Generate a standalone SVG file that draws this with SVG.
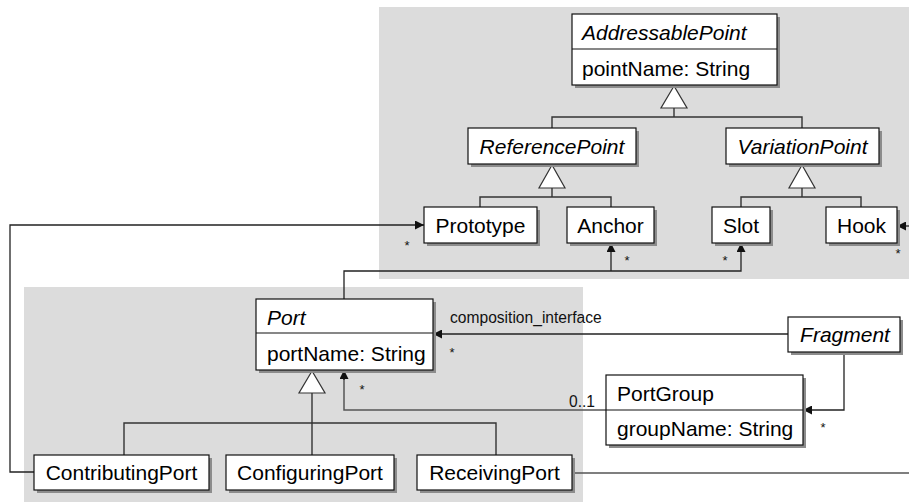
<svg xmlns="http://www.w3.org/2000/svg" width="909" height="504" viewBox="0 0 909 504">
  <style>
    .panel { fill: #dcdcdc; }
    .shadow { fill: #8c8c8c; }
    .box { fill: #ffffff; stroke: #111; stroke-width: 1.2; }
    .div { stroke: #111; stroke-width: 1.2; }
    .name { font-family: "Liberation Sans", Arial, sans-serif; font-size: 21px; fill: #000; }
    .abs { font-style: italic; }
    .c { text-anchor: middle; }
    .lbl { font-family: "Liberation Sans", Arial, sans-serif; font-size: 15.6px; fill: #111; }
    .star { font-family: "Liberation Sans", Arial, sans-serif; font-size: 13px; fill: #111; text-anchor: middle; }
    .gen { fill: none; stroke: #333; stroke-width: 1.4; }
    .tri { fill: #fff; stroke: #333; stroke-width: 1.2; }
    .assoc { fill: none; stroke: #222; stroke-width: 1.3; }
    .assoc-g { fill: none; stroke: #555; stroke-width: 1.5; }
  </style>
  <defs>
    <marker id="arrow" viewBox="0 0 10 10" refX="10" refY="5" markerWidth="9" markerHeight="9" markerUnits="userSpaceOnUse" orient="auto">
      <path d="M0,0 L10,5 L0,10 Z" fill="#111"/>
    </marker>
  </defs>

  <!-- package backgrounds -->
  <rect class="panel" x="379" y="7" width="530" height="272"/>
  <rect class="panel" x="24" y="287" width="559" height="215"/>

  <!-- connectors -->
  <g id="connectors">
    <!-- generalization: AddressablePoint -->
    <polyline class="gen" points="552,128 552,117 802,117 802,128"/>
    <line class="gen" x1="674" y1="108" x2="674" y2="117"/>
    <polygon class="tri" points="674,86 661,108 687,108"/>
    <!-- generalization: ReferencePoint -->
    <polyline class="gen" points="480,207 480,197 611,197 611,207"/>
    <line class="gen" x1="552" y1="188" x2="552" y2="197"/>
    <polygon class="tri" points="552,165 539,188 565,188"/>
    <!-- generalization: VariationPoint -->
    <polyline class="gen" points="741,207 741,197 861,197 861,207"/>
    <line class="gen" x1="802" y1="188" x2="802" y2="197"/>
    <polygon class="tri" points="802,165 789,188 815,188"/>
    <!-- generalization: Port -->
    <polyline class="gen" points="124,455 124,423 496,423 496,455"/>
    <line class="gen" x1="312" y1="393" x2="312" y2="455"/>
    <polygon class="tri" points="312,371 299,393 325,393"/>

    <!-- ContributingPort to Prototype -->
    <polyline class="assoc" points="34,472 10,472 10,225 424,225" marker-end="url(#arrow)"/>
    <text class="star" x="407" y="250">*</text>
    <!-- ReceivingPort to Hook -->
    <line class="assoc-g" x1="572" y1="473" x2="909" y2="473"/>
    <line class="assoc" x1="909" y1="226" x2="897" y2="226" marker-end="url(#arrow)"/>
    <text class="star" x="898" y="258">*</text>
    <!-- Port to Anchor / Slot -->
    <polyline class="assoc" points="344,299 344,271 741,271 741,243" marker-end="url(#arrow)"/>
    <line class="assoc" x1="611" y1="271" x2="611" y2="243" marker-end="url(#arrow)"/>
    <text class="star" x="627" y="265">*</text>
    <text class="star" x="725" y="265">*</text>
    <!-- Fragment to Port -->
    <line class="assoc" x1="788" y1="334" x2="433" y2="334" marker-end="url(#arrow)"/>
    <text class="lbl" x="450" y="323">composition_interface</text>
    <text class="star" x="452" y="357">*</text>
    <!-- Fragment to PortGroup -->
    <polyline class="assoc" points="844,352 844,410 803,410" marker-end="url(#arrow)"/>
    <text class="star" x="823" y="432">*</text>
    <!-- PortGroup to Port -->
    <polyline class="assoc-g" points="606,410 344,410 344,378"/>
    <line class="assoc" x1="344" y1="380" x2="344" y2="370" marker-end="url(#arrow)"/>
    <text class="lbl" x="569" y="407">0..1</text>
    <text class="star" x="362" y="394">*</text>
  </g>

  <!-- nodes -->
  <g id="AddressablePoint">
    <rect class="shadow" x="575" y="17" width="205" height="71"/>
    <rect class="box" x="572" y="14" width="205" height="71"/>
    <line class="div" x1="572" y1="49" x2="777" y2="49"/>
    <text class="name abs" x="582" y="39.5">AddressablePoint</text>
    <text class="name" x="582" y="75.5">pointName: String</text>
  </g>
  <g id="ReferencePoint">
    <rect class="shadow" x="471" y="131" width="168" height="36"/>
    <rect class="box" x="468" y="128" width="168" height="36"/>
    <text class="name abs c" x="552" y="153.5">ReferencePoint</text>
  </g>
  <g id="VariationPoint">
    <rect class="shadow" x="729" y="131" width="153" height="36"/>
    <rect class="box" x="726" y="128" width="153" height="36"/>
    <text class="name abs c" x="802.5" y="153.5">VariationPoint</text>
  </g>
  <g id="Prototype">
    <rect class="shadow" x="427" y="210" width="113" height="36"/>
    <rect class="box" x="424" y="207" width="113" height="36"/>
    <text class="name c" x="480.5" y="232.5">Prototype</text>
  </g>
  <g id="Anchor">
    <rect class="shadow" x="570" y="210" width="87" height="36"/>
    <rect class="box" x="567" y="207" width="87" height="36"/>
    <text class="name c" x="610.5" y="232.5">Anchor</text>
  </g>
  <g id="Slot">
    <rect class="shadow" x="715" y="210" width="58" height="36"/>
    <rect class="box" x="712" y="207" width="58" height="36"/>
    <text class="name c" x="741" y="232.5">Slot</text>
  </g>
  <g id="Hook">
    <rect class="shadow" x="829" y="210" width="71" height="36"/>
    <rect class="box" x="826" y="207" width="71" height="36"/>
    <text class="name c" x="861.5" y="232.5">Hook</text>
  </g>
  <g id="Port">
    <rect class="shadow" x="259" y="302" width="177" height="71"/>
    <rect class="box" x="256" y="299" width="177" height="71"/>
    <line class="div" x1="256" y1="333" x2="433" y2="333"/>
    <text class="name abs" x="267" y="324.5">Port</text>
    <text class="name" x="267" y="360.5">portName: String</text>
  </g>
  <g id="Fragment">
    <rect class="shadow" x="791" y="320" width="112" height="35"/>
    <rect class="box" x="788" y="317" width="112" height="35"/>
    <text class="name abs c" x="845" y="342">Fragment</text>
  </g>
  <g id="PortGroup">
    <rect class="shadow" x="609" y="378" width="197" height="70"/>
    <rect class="box" x="606" y="375" width="197" height="70"/>
    <line class="div" x1="606" y1="410" x2="803" y2="410"/>
    <text class="name" x="617" y="400.5">PortGroup</text>
    <text class="name" x="617" y="436">groupName: String</text>
  </g>
  <g id="ContributingPort">
    <rect class="shadow" x="37" y="458" width="175" height="35"/>
    <rect class="box" x="34" y="455" width="175" height="35"/>
    <text class="name c" x="121.5" y="480">ContributingPort</text>
  </g>
  <g id="ConfiguringPort">
    <rect class="shadow" x="229" y="458" width="168" height="35"/>
    <rect class="box" x="226" y="455" width="168" height="35"/>
    <text class="name c" x="310" y="480">ConfiguringPort</text>
  </g>
  <g id="ReceivingPort">
    <rect class="shadow" x="420" y="458" width="155" height="35"/>
    <rect class="box" x="417" y="455" width="155" height="35"/>
    <text class="name c" x="494.5" y="480">ReceivingPort</text>
  </g>
</svg>
